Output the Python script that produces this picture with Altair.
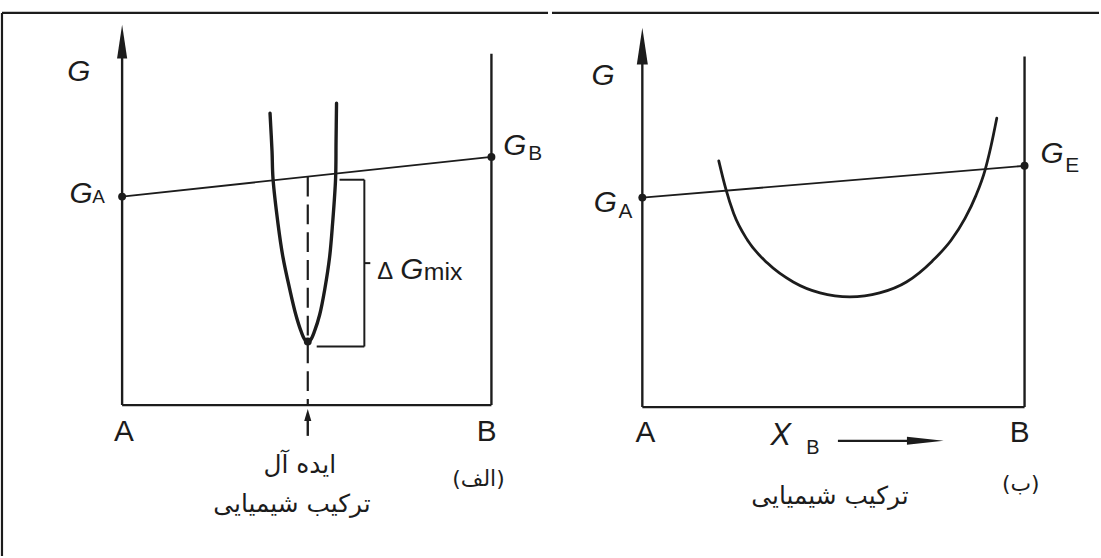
import altair as alt
import pandas as pd

LATIN = "Liberation Sans"
PERSIAN = "DejaVu Sans"
INK = "#1c1c1c"
H = 558
LRM = "\u200e"

# ---------------- panel (a): ideal solution ----------------
a_GA, a_GB = 2.10, 2.50
a_curve_x = [0.4005, 0.4059, 0.4086, 0.4220, 0.4355, 0.4543, 0.4704, 0.4839, 0.4946,
             0.5027, 0.5108, 0.5215, 0.5349, 0.5484, 0.5618, 0.5699, 0.5780, 0.5793, 0.5806]
a_curve_g = [2.94, 2.56, 2.28, 1.83, 1.49, 1.16, 0.91, 0.75, 0.66,
             0.64, 0.66, 0.75, 0.91, 1.16, 1.49, 1.83, 2.28, 2.66, 3.04]
a_min_x, a_min_g = 0.5027, 0.64

# ---------------- panel (b): curve with a broad minimum ----------------
b_GA, b_GE = 2.11, 2.43
b_curve_x = [0.2000, 0.2182, 0.2390, 0.2753, 0.3273, 0.3948, 0.4649, 0.5429,
             0.6208, 0.6909, 0.7584, 0.8078, 0.8442, 0.8727, 0.8961, 0.9117, 0.9273]
b_curve_g = [2.48, 2.20, 1.95, 1.68, 1.45, 1.26, 1.15, 1.11,
             1.15, 1.26, 1.47, 1.68, 1.90, 2.13, 2.38, 2.62, 2.91]

# composition / free-energy windows shown by each panel
A_XDOM, A_YDOM, A_W = [-0.32527, 1.15323], [-1.52, 4.06], 550
B_XDOM, B_YDOM, B_W = [-0.23636, 1.19481], [-1.50, 4.08], 551

ARROW_UP = "M0,-1L0.3,1L-0.3,1Z"
ARROW_UP_SHORT = "M0,-1L0.6,1L-0.6,1Z"
ARROW_RIGHT = "M1,0L-1,-0.22L-1,0.22Z"


def X(dom, field="x"):
    return alt.X(f"{field}:Q", scale=alt.Scale(domain=dom, nice=False, zero=False), axis=None)


def Y(dom, field="g"):
    return alt.Y(f"{field}:Q", scale=alt.Scale(domain=dom, nice=False, zero=False), axis=None)


def segments(rows, xd, yd, width=2.2, dash=None):
    df = pd.DataFrame(rows, columns=["x", "g", "x2", "g2"])
    kw = dict(color=INK, strokeWidth=width)
    if dash:
        kw["strokeDash"] = dash
    return alt.Chart(df).mark_rule(**kw).encode(
        x=X(xd), y=Y(yd), x2=alt.X2("x2:Q"), y2=alt.Y2("g2:Q"))


def curve(xs, gs, xd, yd, width, interp):
    df = pd.DataFrame({"x": xs, "g": gs, "i": range(len(xs))})
    return alt.Chart(df).mark_line(color=INK, strokeWidth=width, interpolate=interp,
                                   strokeCap="round").encode(
        x=X(xd), y=Y(yd), order="i:O")


def dots(xs, gs, xd, yd, size=64):
    df = pd.DataFrame({"x": xs, "g": gs})
    return alt.Chart(df).mark_point(shape="circle", filled=True, color=INK, size=size,
                                    opacity=1).encode(x=X(xd), y=Y(yd))


def head(x, g, shape, size, xd, yd):
    df = pd.DataFrame({"x": [x], "g": [g]})
    return alt.Chart(df).mark_point(shape=shape, filled=True, color=INK, size=size,
                                    opacity=1, strokeWidth=0).encode(x=X(xd), y=Y(yd))


def label(x, g, text, size, xd, yd, italic=False, align="left", baseline="alphabetic",
          font=LATIN):
    df = pd.DataFrame({"x": [x], "g": [g], "t": [text]})
    kw = dict(font=font, fontSize=size, color=INK, align=align, baseline=baseline)
    if italic:
        kw["fontStyle"] = "italic"
    return alt.Chart(df).mark_text(**kw).encode(x=X(xd), y=Y(yd), text="t:N")


# ---------------- build panel (a) ----------------
xa, ya = A_XDOM, A_YDOM
panel_a = alt.layer(
    # outer frame
    segments([[xa[0], 3.95, xa[1], 3.95], [xa[0], 3.95, xa[0], ya[0]]], xa, ya, 2.2),
    # axes and the pure-B ordinate
    segments([[0, 0, 0, 3.55], [1, 0, 1, 3.54], [0, 0, 1, 0]], xa, ya, 2.4),
    head(0, 3.66, ARROW_UP, 1156, xa, ya),
    # straight line joining G_A and G_B
    segments([[0, a_GA, 1, a_GB]], xa, ya, 1.9),
    # dashed composition marker
    segments([[a_min_x, a_GA + (a_GB - a_GA) * a_min_x, a_min_x, 0]], xa, ya, 2.2, [20, 8]),
    segments([[a_min_x, -0.31, a_min_x, -0.12]], xa, ya, 2.4),
    head(a_min_x, -0.10, ARROW_UP_SHORT, 144, xa, ya),
    # bracket for the mixing term
    segments([[0.5887, 2.27, 0.6559, 2.27], [0.6559, 2.27, 0.6559, 0.59],
              [0.5269, 0.59, 0.6559, 0.59], [0.6559, 1.43, 0.6720, 1.43]], xa, ya, 2.0),
    curve(a_curve_x, a_curve_g, xa, ya, 3.4, "catmull-rom"),
    dots([0, 1, a_min_x], [a_GA, a_GB, a_min_g], xa, ya),
    # labels
    label(-0.117, 3.26, "G", 30, xa, ya, italic=True, align="center"),
    label(-0.1425, 2.04, "G", 30, xa, ya, italic=True),
    label(-0.0806, 2.04, "A", 19, xa, ya),
    label(1.032, 2.52, "G", 30, xa, ya, italic=True),
    label(1.0995, 2.47, "B", 21, xa, ya),
    label(0.691, 1.27, "Δ", 24, xa, ya),
    label(0.753, 1.27, "G", 30, xa, ya, italic=True),
    label(0.817, 1.26, "mix", 25, xa, ya),
    label(0.005, -0.36, "A", 30, xa, ya, align="center"),
    label(0.987, -0.36, "B", 30, xa, ya, align="center"),
    label(0.481, -0.60, "ایده آل", 25, xa, ya, align="center", baseline="middle", font=PERSIAN),
    label(0.46, -1.00, "ترکیب شیمیایی", 25, xa, ya, align="center", baseline="middle",
          font=PERSIAN),
    label(0.965, -0.74, LRM + "(الف)" + LRM, 22, xa, ya, align="center", baseline="middle",
          font=PERSIAN),
).properties(width=A_W, height=H)

# ---------------- build panel (b) ----------------
xb, yb = B_XDOM, B_YDOM
panel_b = alt.layer(
    segments([[xb[0], 3.97, xb[1], 3.97]], xb, yb, 2.2),
    segments([[0, 0, 0, 3.55], [1, 0, 1, 3.53], [0, 0, 1, 0]], xb, yb, 2.4),
    head(0, 3.635, ARROW_UP, 1369, xb, yb),
    segments([[0, b_GA, 1, b_GE]], xb, yb, 1.9),
    curve(b_curve_x, b_curve_g, xb, yb, 2.8, "monotone"),
    dots([0, 1], [b_GA, b_GE], xb, yb),
    # composition arrow
    segments([[0.5117, -0.34, 0.7117, -0.34]], xb, yb, 2.2),
    head(0.7403, -0.34, ARROW_RIGHT, 1369, xb, yb),
    # labels
    label(-0.1026, 3.24, "G", 30, xb, yb, italic=True, align="center"),
    label(-0.127, 1.96, "G", 30, xb, yb, italic=True),
    label(-0.0623, 1.90, "A", 21, xb, yb),
    label(1.0416, 2.46, "G", 30, xb, yb, italic=True),
    label(1.1065, 2.37, "E", 21, xb, yb),
    label(0.008, -0.35, "A", 30, xb, yb, align="center"),
    label(0.987, -0.35, "B", 30, xb, yb, align="center"),
    label(0.335, -0.38, "X", 31, xb, yb, italic=True),
    label(0.4286, -0.47, "B", 20, xb, yb),
    label(0.491, -0.90, "ترکیب شیمیایی", 25, xb, yb, align="center", baseline="middle",
          font=PERSIAN),
    label(0.99, -0.78, LRM + "(ب)" + LRM, 22, xb, yb, align="center", baseline="middle",
          font=PERSIAN),
).properties(width=B_W, height=H)

chart = alt.hconcat(panel_a, panel_b, spacing=0).properties(
    padding=0, background="white"
).configure_view(strokeWidth=0)

chart.save("out.html", embed_options={"renderer": "svg", "actions": False})
